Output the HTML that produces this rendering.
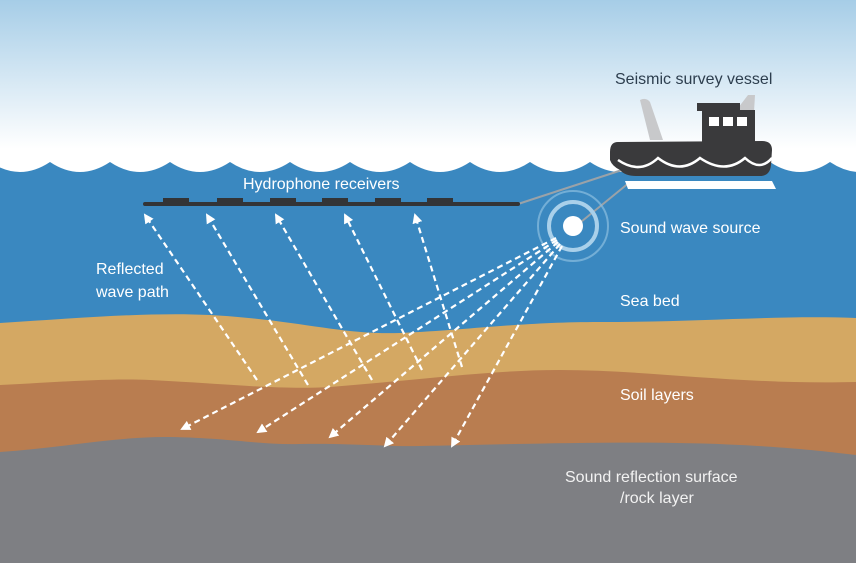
<!DOCTYPE html>
<html><head><meta charset="utf-8"><style>
html,body{margin:0;padding:0;}
body{width:856px;height:563px;overflow:hidden;}
text{font-family:"Liberation Sans",sans-serif;}
</style></head><body>
<svg width="856" height="563" viewBox="0 0 856 563" xmlns="http://www.w3.org/2000/svg">
<defs>
<linearGradient id="sky" x1="0" y1="0" x2="0" y2="1">
<stop offset="0" stop-color="#a6cde7"/><stop offset="0.85" stop-color="#ffffff"/>
</linearGradient>
<marker id="ah" markerWidth="10" markerHeight="10" refX="8" refY="5" orient="auto" markerUnits="userSpaceOnUse">
<path d="M0,0 L10,5 L0,10 Z" fill="#fff"/>
</marker>
</defs>
<rect width="856" height="175" fill="url(#sky)"/>
<path d="M-10,162 Q20,182 50,162 Q80,182 110,162 Q140,182 170,162 Q200,182 230,162 Q260,182 290,162 Q320,182 350,162 Q380,182 410,162 Q440,182 470,162 Q500,182 530,162 Q560,182 590,162 Q620,182 650,162 Q680,182 710,162 Q740,182 770,162 Q800,182 830,162 Q860,182 890,162 L890,563 L-10,563 Z" fill="#3a88c0"/>
<path d="M0,323 C80,318 150,312 210,315 C300,320 340,335 400,333 C470,330 520,322 600,322 C700,322 780,315 856,318 L856,563 L0,563 Z" fill="#d4a863"/>
<path d="M0,385 C60,382 110,378 150,380 C230,384 280,390 330,387 C420,380 490,370 560,370 C650,370 740,385 856,382 L856,563 L0,563 Z" fill="#b97d50"/>
<path d="M0,452 C60,448 120,436 170,437 C230,438 260,445 300,444 C350,443 390,447 420,446 C520,444 650,440 740,445 C800,448 830,452 856,455 L856,563 L0,563 Z" fill="#7e7f83"/>
<line x1="518" y1="204" x2="622" y2="170" stroke="#9aa2a8" stroke-width="2"/>
<line x1="576" y1="226" x2="630" y2="182" stroke="#9aa2a8" stroke-width="2"/>
<rect x="143" y="202" width="377" height="4" rx="2" fill="#333436"/>
<g fill="#333436">
<rect x="163" y="198" width="26" height="6"/><rect x="217" y="198" width="26" height="6"/><rect x="270" y="198" width="26" height="6"/><rect x="322" y="198" width="26" height="6"/><rect x="375" y="198" width="26" height="6"/><rect x="427" y="198" width="26" height="6"/>
</g>
<circle cx="573" cy="226" r="35" fill="none" stroke="#8cbfe0" stroke-width="2" opacity="0.7"/>
<circle cx="573" cy="226" r="24" fill="none" stroke="#a9d0ea" stroke-width="4"/>
<circle cx="573" cy="226" r="10" fill="#fff"/>
<g stroke="#fff" stroke-width="2.2" stroke-dasharray="6,4" fill="none" marker-end="url(#ah)">
<line x1="556" y1="238" x2="182" y2="429"/>
<line x1="557" y1="240" x2="258" y2="432"/>
<line x1="558" y1="242" x2="330" y2="437"/>
<line x1="560" y1="244" x2="385" y2="446"/>
<line x1="562" y1="246" x2="452" y2="446"/>
<line x1="257" y1="380" x2="145" y2="215"/>
<line x1="308" y1="385" x2="207" y2="215"/>
<line x1="372" y1="380" x2="276" y2="215"/>
<line x1="422" y1="370" x2="345" y2="215"/>
<line x1="462" y1="367" x2="415" y2="215"/>
</g>
<path d="M640,100 Q646,97 650,102 L663,140 L650,140 Z" fill="#c8c9cb"/>
<path d="M735,112 L748,95 L755,95 L754,112 Z" fill="#c8c9cb"/>
<rect x="697" y="103" width="43" height="8" fill="#3a3a3c"/>
<rect x="702" y="110" width="53" height="32" fill="#3a3a3c"/>
<g fill="#fff"><rect x="709" y="117" width="10" height="9"/><rect x="723" y="117" width="10" height="9"/><rect x="737" y="117" width="10" height="9"/></g>
<path d="M618,142 Q610,142 610,152 L610,160 Q612,166 620,170 Q625,176 636,176 L760,176 Q770,176 771,165 L772,150 Q772,141 762,141 Z" fill="#3a3a3c"/>
<path d="M618,160 Q640,175 658,158 Q680,175 700,158 Q725,175 745,158 Q760,172 772,158" stroke="#fff" stroke-width="2.5" fill="none"/>
<path d="M625,181 L772,181 L776,189 L628,189 Z" fill="#fff"/>
<text x="615" y="84" font-size="16" fill="#2d3e4e">Seismic survey vessel</text>
<text x="243" y="189" font-size="16" fill="#fff">Hydrophone receivers</text>
<text x="620" y="233" font-size="16" fill="#fff">Sound wave source</text>
<text x="96" y="274" font-size="16" fill="#fff">Reflected</text>
<text x="96" y="297" font-size="16" fill="#fff">wave path</text>
<text x="620" y="306" font-size="16" fill="#fff">Sea bed</text>
<text x="620" y="400" font-size="16" fill="#fff">Soil layers</text>
<text x="565" y="482" font-size="16" fill="#f2f2f2">Sound reflection surface</text>
<text x="620" y="503" font-size="16" fill="#f2f2f2">/rock layer</text>
</svg>
</body></html>
